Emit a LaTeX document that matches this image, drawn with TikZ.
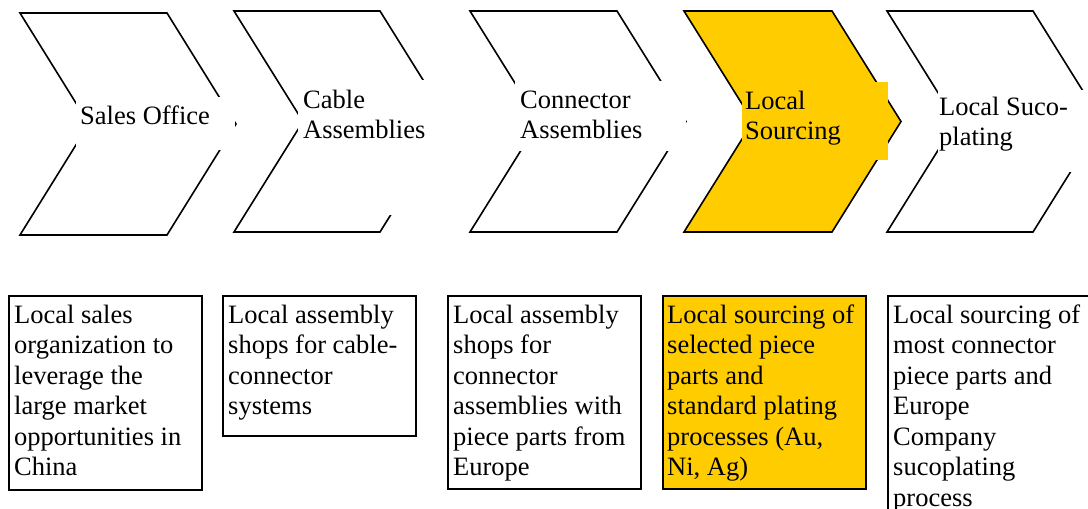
\documentclass[tikz,border=0pt]{standalone}
\usepackage{fontspec}
\setmainfont{Liberation Serif}
\definecolor{gold}{HTML}{FFCC00}
\newcommand\chevronshape[5]{%
  \draw[chevron,fill=#5] (#1,#3) -- (#2,#3) -- ({#2+69},{(#3+#4)/2}) -- (#2,#4) -- (#1,#4) -- ({#1+69},{(#3+#4)/2}) -- cycle;}
\begin{document}
\begin{tikzpicture}[x=1pt,y=-1pt,
  chevron/.style={draw=black,line width=1.6pt,line join=miter},
  cover/.style={draw=none,inner sep=0pt,anchor=north west},
  txt/.style={font=\fontsize{26.5}{30.5}\selectfont,align=left,inner sep=0pt,anchor=north west},
  descbox/.style={draw=black,line width=1.5pt,inner sep=0pt,anchor=north west}]
\clip (0,0) rectangle (1088,509);
\fill[white] (0,0) rectangle (1088,509);
% chevron 1
\chevronshape{20}{167}{13}{235}{white}
\node[cover,fill=white,minimum width=159pt,minimum height=53pt] (c1) at (76,97) {};
\node[txt] (t1) at (80,{124-21.35}) {\strut Sales Office};
% chevron 2
\chevronshape{234}{380}{11}{232}{white}
\node[cover,fill=white,minimum width=154pt,minimum height=135pt] (c2) at (298,80) {};
\node[txt] (t2) at (303,{108-21.35}) {\strut Cable\\Assemblies};
% chevron 3
\chevronshape{470}{617}{11}{232}{white}
\node[cover,fill=white,minimum width=171pt,minimum height=70pt] (c3) at (515,81) {};
\node[txt] (t3) at (520,{108-21.35}) {\strut Connector\\Assemblies};
% chevron 4
\chevronshape{684}{832}{11}{232}{gold}
\node[cover,fill=gold,minimum width=146pt,minimum height=78pt] (c4) at (742,82) {};
\node[txt] (t4) at (745,{109-21.35}) {\strut Local\\Sourcing};
% chevron 5
\chevronshape{887}{1033}{11}{232}{white}
\node[cover,fill=white,minimum width=162pt,minimum height=82pt] (c5) at (938,90) {};
\node[txt] (t5) at (939,{115-21.35}) {\strut Local Suco-\\plating};
% description boxes
\node[descbox,fill=white,minimum width=193pt,minimum height=194pt] (d1) at (8,295) {};
\node[txt] (b1) at (14,{323-21.35}) {\strut Local sales\\organization to\\leverage the\\large market\\opportunities in\\China};
\node[descbox,fill=white,minimum width=193pt,minimum height=140pt] (d2) at (222,295) {};
\node[txt] (b2) at (228,{323-21.35}) {\strut Local assembly\\shops for cable-\\connector\\systems};
\node[descbox,fill=white,minimum width=193pt,minimum height=193pt] (d3) at (447,295) {};
\node[txt] (b3) at (453,{323-21.35}) {\strut Local assembly\\shops for\\connector\\assemblies with\\piece parts from\\Europe};
\node[descbox,fill=gold,minimum width=203pt,minimum height=193pt] (d4) at (662,295) {};
\node[txt] (b4) at (667,{323-21.35}) {\strut Local sourcing of\\selected piece\\parts and\\standard plating\\processes (Au,\\Ni, Ag)};
\node[descbox,fill=white,minimum width=213pt,minimum height=265pt] (d5) at (887,295) {};
\node[txt] (b5) at (893,{323-21.35}) {\strut Local sourcing of\\most connector\\piece parts and\\Europe\\Company\\sucoplating\\process};
\end{tikzpicture}
\end{document}
